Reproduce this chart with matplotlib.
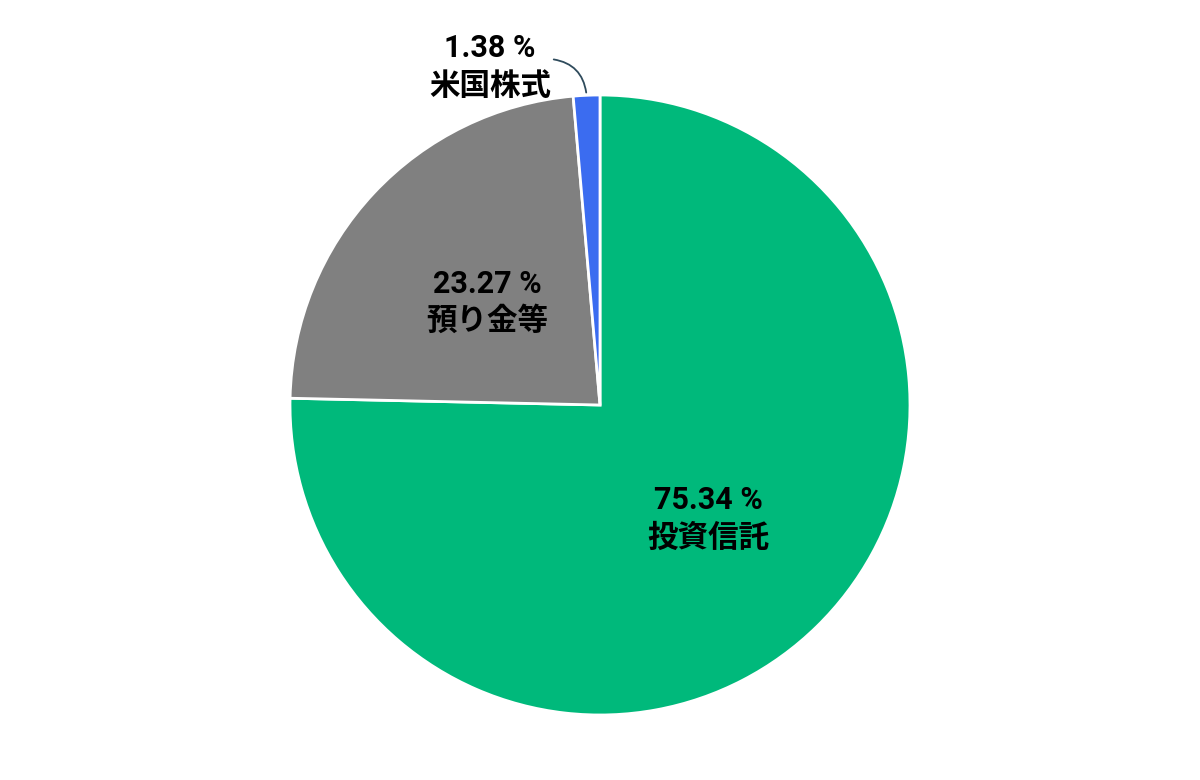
import numpy as np
import matplotlib.pyplot as plt

plt.rcParams['font.family'] = ['Roboto', 'Noto Sans CJK JP', 'DejaVu Sans']

labels = ["投資信託", "預り金等", "米国株式"]
values = [75.34, 23.27, 1.38]
colors = ["#00B97B", "#808080", "#3B6CF0"]

fig = plt.figure(figsize=(12, 7.8), dpi=100)
ax = fig.add_axes([290 / 1200, (780 - 405 - 310) / 780, 620 / 1200, 620 / 780])

wedges, _ = ax.pie(values, colors=colors, startangle=90, counterclock=False,
                   radius=1, wedgeprops=dict(edgecolor="white", linewidth=2))
ax.set_xlim(-1, 1)
ax.set_ylim(-1, 1)
ax.set_aspect("equal")

for w, lab, v in zip(wedges, labels, values):
    mid = np.deg2rad((w.theta1 + w.theta2) / 2)
    txt = f"{v:.2f} %\n{lab}"
    if v > 5:
        ax.text(0.5 * np.cos(mid), 0.5 * np.sin(mid) - 0.01, txt, ha="center", va="center",
                fontsize=22, fontweight="bold", linespacing=1.3)
    else:
        ax.annotate(txt, xy=(np.cos(mid), np.sin(mid)), xytext=(-0.355, 1.09),
                    ha="center", va="center", fontsize=22, fontweight="bold",
                    linespacing=1.3, annotation_clip=False,
                    arrowprops=dict(arrowstyle="-", color="#2F4B5C", lw=1.3,
                                    connectionstyle="arc3,rad=-0.4",
                                    shrinkA=0, shrinkB=2,
                                    relpos=(1.0, 0.62)))

fig.savefig("out.png")
